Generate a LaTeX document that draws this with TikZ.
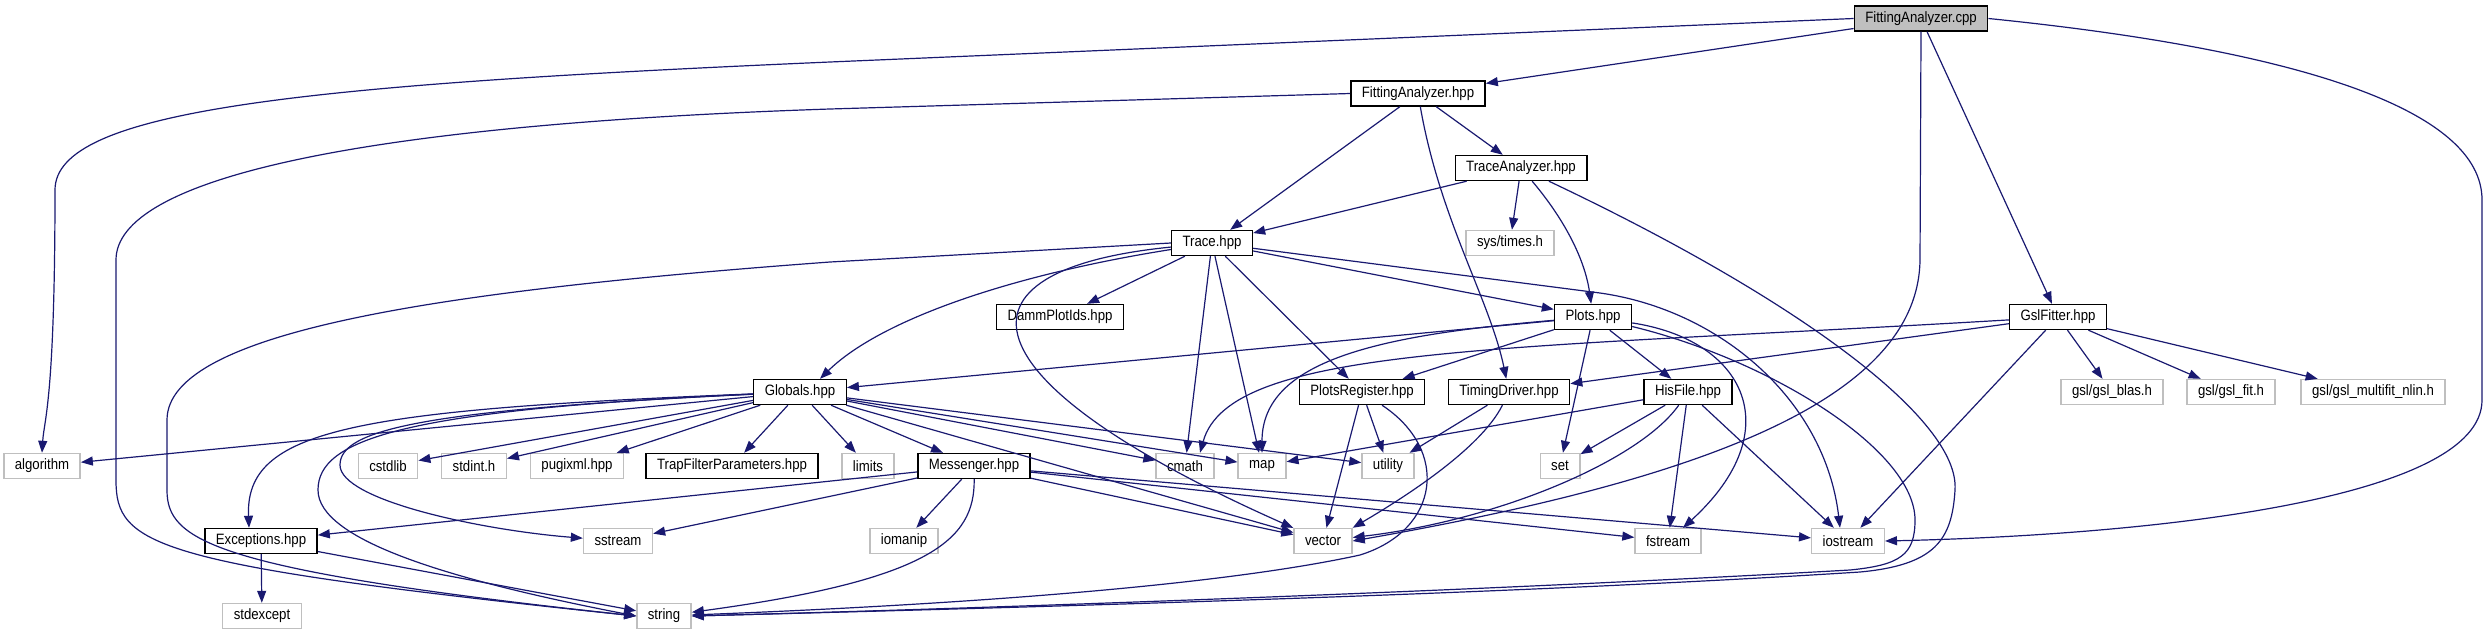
\documentclass[tikz,border=0pt]{standalone}
\usepackage{fontspec}
\setmainfont{Liberation Sans}[FakeStretch=0.88]
\usepackage{xcolor}
\usetikzlibrary{arrows.meta}

\definecolor{edgeblue}{HTML}{191970}
\definecolor{boxgray}{HTML}{BFBFBF}

\begin{document}
\begin{tikzpicture}[
  x=1pt, y=-1pt,
  box/.style={draw=black, line width=1.4pt, fill=white, minimum height=25pt, inner xsep=11pt, inner ysep=0pt, font=\fontsize{15}{17}\selectfont},
  sysbox/.style={box, draw=boxgray},
  mainbox/.style={box, fill=boxgray},
  arrow/.style={-{Triangle[length=12pt,width=9pt]}, edgeblue, line width=1.2pt}
]
\useasboundingbox (0,0) rectangle (2488,635);
\node[mainbox] (fitcpp) at (1921,18.5) {FittingAnalyzer.cpp};
\node[box] (fithpp) at (1418,93.5) {FittingAnalyzer.hpp};
\node[box] (tracean) at (1521,168) {TraceAnalyzer.hpp};
\node[box] (trace) at (1212,243) {Trace.hpp};
\node[sysbox] (systimes) at (1510,243) {sys/times.h};
\node[box] (damm) at (1060,317) {DammPlotIds.hpp};
\node[box] (plots) at (1593,317) {Plots.hpp};
\node[box] (gslfit) at (2058,317) {GslFitter.hpp};
\node[box] (globals) at (800,392) {Globals.hpp};
\node[box] (plotsreg) at (1362,392) {PlotsRegister.hpp};
\node[box] (timing) at (1509,392) {TimingDriver.hpp};
\node[box] (hisfile) at (1688,392) {HisFile.hpp};
\node[sysbox] (gslblas) at (2112,392) {gsl/gsl\_blas.h};
\node[sysbox] (gslfith) at (2231,392) {gsl/gsl\_fit.h};
\node[sysbox] (gslnlin) at (2373,392) {gsl/gsl\_multifit\_nlin.h};
\node[sysbox] (algorithm) at (42,466) {algorithm};
\node[sysbox] (cstdlib) at (388,466) {cstdlib};
\node[sysbox] (stdint) at (474,466) {stdint.h};
\node[sysbox] (pugixml) at (577,466) {pugixml.hpp};
\node[box] (trapfilter) at (732,466) {TrapFilterParameters.hpp};
\node[sysbox] (limits) at (868,466) {limits};
\node[box] (messenger) at (974,466) {Messenger.hpp};
\node[sysbox] (cmath) at (1185,466) {cmath};
\node[sysbox] (map) at (1262,466) {map};
\node[sysbox] (utility) at (1388,466) {utility};
\node[sysbox] (set) at (1560,466) {set};
\node[box] (exceptions) at (261,541) {Exceptions.hpp};
\node[sysbox] (sstream) at (618,541) {sstream};
\node[sysbox] (iomanip) at (904,541) {iomanip};
\node[sysbox] (vector) at (1323,541) {vector};
\node[sysbox] (fstream) at (1668,541) {fstream};
\node[sysbox] (iostream) at (1848,541) {iostream};
\node[sysbox] (stdexcept) at (262,616) {stdexcept};
\node[sysbox] (string) at (664,616) {string};
\draw[arrow] (fitcpp.west) -- (830,62) .. controls (300,85) and (55,110) .. (55,190) .. controls (55,400) and (44,420) .. (algorithm.north);
\draw[arrow] (fitcpp) -- (fithpp);
\draw[arrow] (fitcpp.south) -- (1920,260) .. controls (1918,400) and (1700,480) .. (vector.east);
\draw[arrow] (fitcpp) -- (gslfit);
\draw[arrow] (fitcpp.east) .. controls (2300,50) and (2482,110) .. (2482,200) -- (2482,400) .. controls (2482,500) and (2150,535) .. (iostream.east);
\draw[arrow] (fithpp.west) -- (830,109) .. controls (350,125) and (116,180) .. (116,260) -- (116,480) .. controls (116,545) and (150,565) .. (string.west);
\draw[arrow] (fithpp) -- (trace);
\draw[arrow] (fithpp) -- (tracean);
\draw[arrow] (fithpp) .. controls (1440,220) and (1490,300) .. (timing);
\draw[arrow] (tracean) -- (trace);
\draw[arrow] (tracean) -- (systimes);
\draw[arrow] (tracean) .. controls (1565,220) and (1585,260) .. (plots);
\draw[arrow] (tracean) .. controls (1800,300) and (1960,420) .. (1955,490) .. controls (1952,540) and (1935,565) .. (1860,572) .. controls (1500,595) and (1000,608) .. (string.east);
\draw[arrow] (trace.west) -- (830,262) .. controls (450,290) and (167,330) .. (167,420) -- (167,490) .. controls (167,540) and (210,570) .. (string.west);
\draw[arrow] (trace) .. controls (1010,275) and (880,320) .. ([xshift=20pt]globals.north);
\draw[arrow] (trace) .. controls (940,270) and (960,380) .. (vector);
\draw[arrow] (trace) -- (damm);
\draw[arrow] (trace) -- (cmath);
\draw[arrow] (trace) -- (map);
\draw[arrow] (trace) -- (plotsreg);
\draw[arrow] (trace) -- (plots);
\draw[arrow] (trace) -- (1600,293) .. controls (1720,310) and (1825,400) .. ([xshift=-8pt]iostream.north);
\draw[arrow] (plots) -- (globals);
\draw[arrow] (plots) .. controls (1380,335) and (1262,360) .. (map);
\draw[arrow] (plots) -- (plotsreg);
\draw[arrow] (plots) -- (set);
\draw[arrow] (plots) -- (hisfile);
\draw[arrow] (plots) .. controls (1745,340) and (1790,430) .. ([xshift=15pt]fstream.north);
\draw[arrow] (plots) .. controls (1770,360) and (1915,450) .. (1915,520) .. controls (1915,555) and (1900,565) .. (1850,570) .. controls (1500,590) and (1000,608) .. (string.east);
\draw[arrow] (gslfit) .. controls (1500,350) and (1230,345) .. ([xshift=15pt]cmath.north);
\draw[arrow] (gslfit) -- (timing);
\draw[arrow] (gslfit) -- (gslblas);
\draw[arrow] (gslfit) -- (gslfith);
\draw[arrow] (gslfit) -- (gslnlin);
\draw[arrow] (gslfit) -- (iostream);
\draw[arrow] (globals) -- (algorithm);
\draw[arrow] (globals) .. controls (350,410) and (245,430) .. ([xshift=-12pt]exceptions.north);
\draw[arrow] (globals) .. controls (400,410) and (318,440) .. (318,490) .. controls (318,540) and (450,580) .. (string.west);
\draw[arrow] (globals) .. controls (420,410) and (340,430) .. (340,465) .. controls (340,500) and (480,530) .. (sstream);
\draw[arrow] (globals) -- (cstdlib);
\draw[arrow] (globals) -- (stdint);
\draw[arrow] (globals) -- (pugixml);
\draw[arrow] (globals) -- (trapfilter);
\draw[arrow] (globals) -- (limits);
\draw[arrow] (globals) -- (messenger);
\draw[arrow] (globals) -- (cmath);
\draw[arrow] (globals) -- (map);
\draw[arrow] (globals) -- (utility);
\draw[arrow] (globals) -- (vector);
\draw[arrow] (messenger) -- (exceptions);
\draw[arrow] (messenger) -- (sstream);
\draw[arrow] (messenger) -- (iomanip);
\draw[arrow] (messenger) .. controls (975,540) and (930,580) .. (string);
\draw[arrow] (messenger) -- (vector);
\draw[arrow] (messenger) -- (fstream);
\draw[arrow] (messenger) -- (iostream);
\draw[arrow] (plotsreg) -- (utility);
\draw[arrow] (plotsreg) -- (vector);
\draw[arrow] (plotsreg) .. controls (1450,450) and (1440,530) .. (1360,555) .. controls (1200,590) and (900,607) .. (string);
\draw[arrow] (timing) -- (utility);
\draw[arrow] (timing) .. controls (1480,450) and (1400,500) .. (vector.north east);
\draw[arrow] (hisfile) -- (map);
\draw[arrow] (hisfile) -- (set);
\draw[arrow] (hisfile) .. controls (1640,460) and (1500,520) .. (vector);
\draw[arrow] (hisfile) -- (fstream);
\draw[arrow] (hisfile) -- (iostream);
\draw[arrow] (exceptions) -- (stdexcept);
\draw[arrow] (exceptions) -- (string);
\end{tikzpicture}
\end{document}
